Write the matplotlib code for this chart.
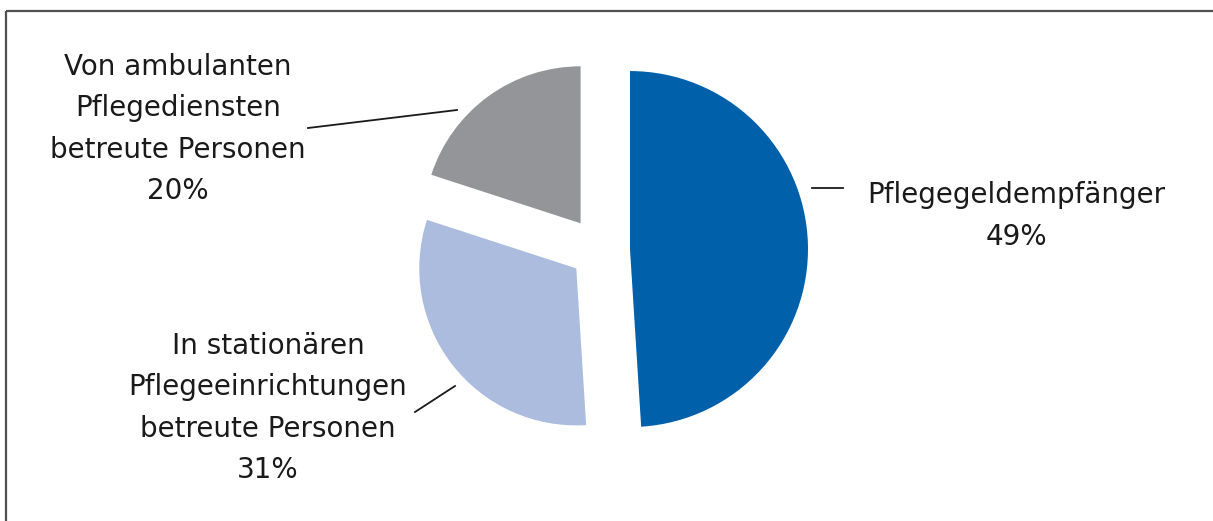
import matplotlib.pyplot as plt

W, H = 1213, 521

names = ["Pflegegeldempfänger",
         "In stationären\nPflegeeinrichtungen\nbetreute Personen",
         "Von ambulanten\nPflegediensten\nbetreute Personen"]
shares = [49, 31, 20]
colors = ["#0060aa", "#abbcde", "#939598"]

plt.rcParams['font.family'] = ['DejaVu Sans']


def py(y):
    # pixel row (top-down) -> data y (bottom-up)
    return H - y


fig = plt.figure(figsize=(W / 100, H / 100), dpi=100)
ax = fig.add_axes([0, 0, 1, 1])

wedges, _ = ax.pie(shares, colors=colors, startangle=90, counterclock=False,
                   center=(600, py(250)), radius=157, explode=[30, 30, 33],
                   wedgeprops=dict(linewidth=0))
wedges[0].set_radius(178)

# labels with percentages
label_pos = [(1016, 216), (268, 408), (178, 129)]
for name, v, (x, y) in zip(names, shares, label_pos):
    ax.text(x, py(y), f"{name}\n{v}%", ha="center", va="center",
            fontsize=20, color="#1a1a1a", linespacing=1.6)

# leader lines
leaders = [((812, 843), (188, 188)),
           ((415, 455), (412, 386)),
           ((308, 457), (128, 110))]
for xs, ys in leaders:
    ax.plot(xs, [py(y) for y in ys], color="#1a1a1a", lw=1.3)

# frame on top and left
ax.plot([6, W], [py(11), py(11)], color="#505050", lw=1.6, solid_capstyle="butt")
ax.plot([6, 6], [py(11), 0], color="#505050", lw=1.6, solid_capstyle="butt")

ax.set_xlim(0, W)
ax.set_ylim(0, H)
ax.set_aspect("auto")
ax.axis("off")

fig.savefig("out.png", dpi=100)
